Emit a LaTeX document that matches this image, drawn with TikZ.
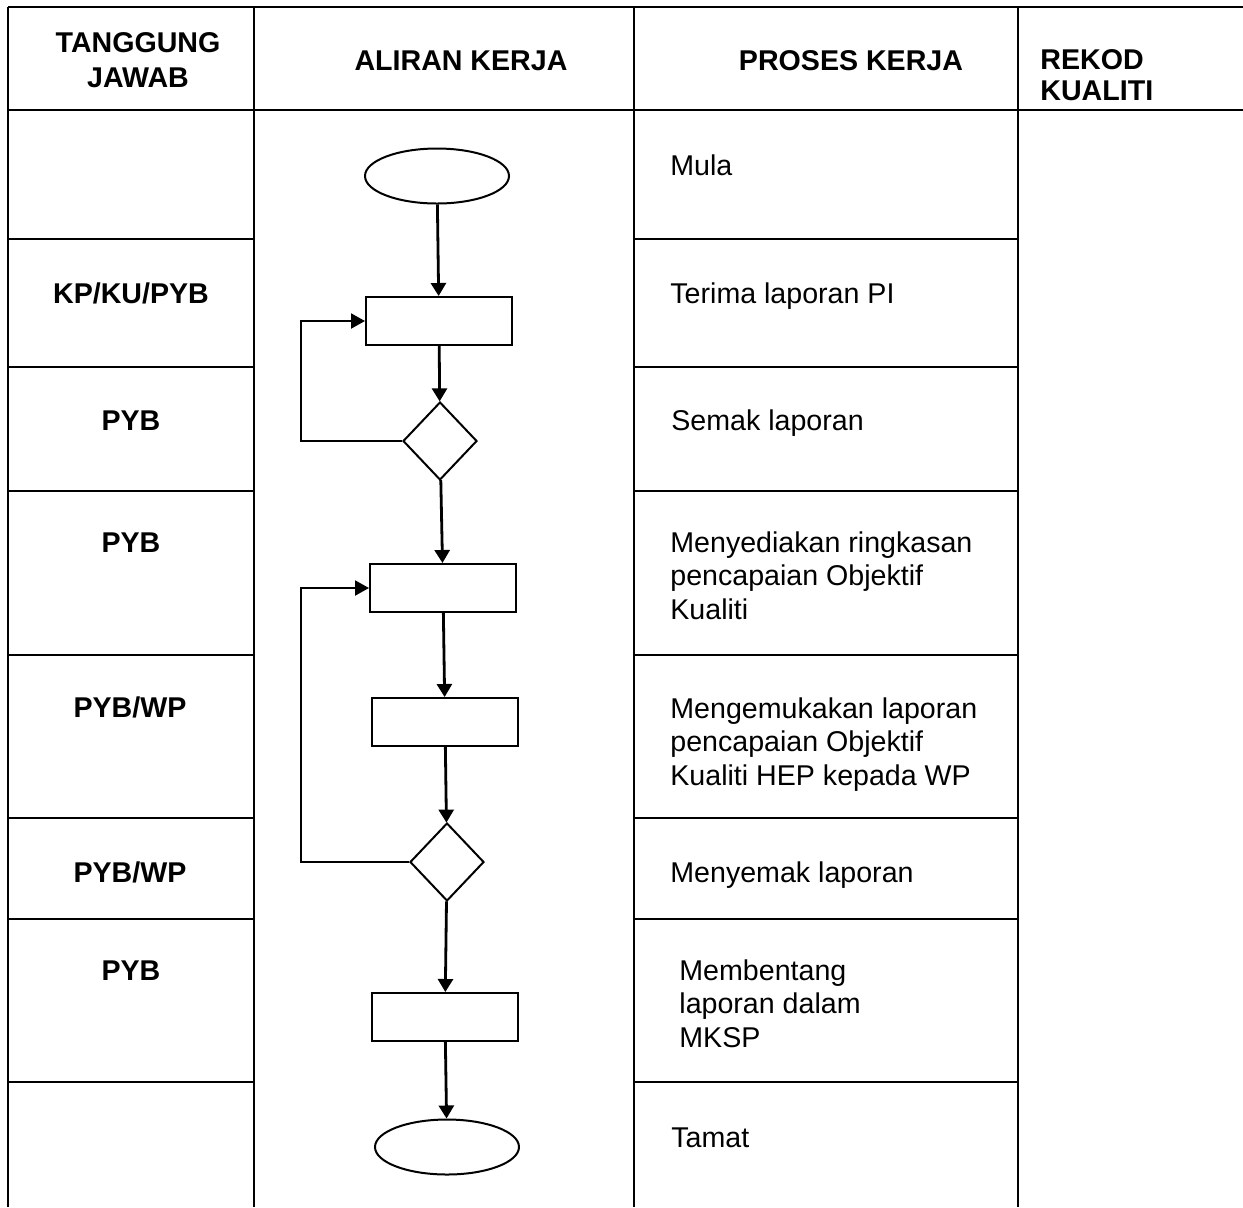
\documentclass[tikz,border=0pt]{standalone}
\usepackage{fontspec}
\setmainfont{Liberation Sans}
\usepackage{tikz}
\usetikzlibrary{shapes.geometric}
\usetikzlibrary{arrows.meta}
\tikzset{term/.style = {draw, ellipse, line width = 1pt, inner sep = 0, minimum width = 72pt, minimum height = 27.5pt}}
\tikzset{proc/.style = {draw, rectangle, line width = 1pt, inner sep = 0, minimum width = 73pt, minimum height = 24pt}}
\tikzset{dec/.style = {draw, diamond, line width = 1pt, inner sep = 0, minimum width = 37pt, minimum height = 39pt}}
\tikzset{flow/.style = {line width = 1.4pt, -{Triangle[length = 6.5pt, width = 7.5pt]}}}
\tikzset{back/.style = {line width = 1pt, -{Triangle[length = 7pt, width = 7.5pt]}}}
\tikzset{tbl/.style = {line width = 1.3pt}}
\tikzset{txt/.style = {inner sep = 0, font = \fontsize{14.3}{16.75}\selectfont}}
\tikzset{hdr/.style = {inner sep = 0, font = \bfseries\fontsize{14.3}{17.5}\selectfont}}

\begin{document}
\begin{tikzpicture}[x = 0.5pt, y = -0.5pt]
       \useasboundingbox (0, 0) rectangle (1243, 1207);

       % table
       \draw [tbl] (8, 7) -- (1243, 7);
       \draw [tbl] (8, 110) -- (1243, 110);
       \foreach \x in {8, 254, 634, 1018}
              \draw [tbl] (\x, 7) -- (\x, 1207);
       \foreach \y in {239, 367, 491, 655, 818, 919, 1082} {
              \draw [tbl] (8, \y) -- (254, \y);
              \draw [tbl] (634, \y) -- (1018, \y);
       }

       % headers
       \node [hdr, align = center, anchor = north] (hjawab) at (138, 32) {TANGGUNG\\JAWAB};
       \node [hdr, anchor = base] (haliran) at (461, 70) {ALIRAN KERJA};
       \node [hdr, anchor = base] (hproses) at (851, 70) {PROSES KERJA};
       \node [hdr, align = left, anchor = north west, font = \bfseries\fontsize{14.3}{15.5}\selectfont] (hrekod) at (1040, 49) {REKOD\\KUALITI};

       % tanggung jawab
       \node [hdr, anchor = base] (j1) at (131, 303) {KP/KU/PYB};
       \node [hdr, anchor = base] (j2) at (131, 430) {PYB};
       \node [hdr, anchor = base] (j3) at (131, 552) {PYB};
       \node [hdr, anchor = base] (j4) at (130, 717) {PYB/WP};
       \node [hdr, anchor = base] (j5) at (130, 882) {PYB/WP};
       \node [hdr, anchor = base] (j6) at (131, 980) {PYB};

       % proses kerja
       \node [txt, anchor = base west] (p1) at (670, 175) {Mula};
       \node [txt, anchor = base west] (p2) at (670, 303) {Terima laporan PI};
       \node [txt, anchor = base west] (p3) at (671, 430) {Semak laporan};
       \node [txt, align = left, anchor = north west] (p4) at (670, 531) {Menyediakan ringkasan\\pencapaian Objektif\\Kualiti};
       \node [txt, align = left, anchor = north west] (p5) at (670, 697) {Mengemukakan laporan\\pencapaian Objektif\\Kualiti HEP kepada WP};
       \node [txt, anchor = base west] (p6) at (670, 882) {Menyemak laporan};
       \node [txt, align = left, anchor = north west] (p7) at (679, 959) {Membentang\\laporan dalam\\MKSP};
       \node [txt, anchor = base west] (p8) at (671, 1147) {Tamat};

       % aliran kerja
       \node [term] (mula) at (437, 176) {};
       \node [proc] (terima) at (439, 321) {};
       \node [dec] (semak) at (440, 441) {};
       \node [proc] (sedia) at (443, 588) {};
       \node [proc] (kemuka) at (445, 722) {};
       \node [dec] (nyemak) at (447, 862) {};
       \node [proc] (bentang) at (445, 1017) {};
       \node [term] (tamat) at (447, 1147) {};
       \coordinate (kiri) at (301, 0);

       \draw [flow] (mula) -- (terima);
       \draw [flow] (terima) -- (semak);
       \draw [flow] (semak) -- (sedia);
       \draw [flow] (sedia) -- (kemuka);
       \draw [flow] (kemuka) -- (nyemak);
       \draw [flow] (nyemak) -- (bentang);
       \draw [flow] (bentang) -- (tamat);

       \draw [back] (semak.west) -- (semak.west -| kiri) |- (terima.west);
       \draw [back] (nyemak.west) -- (nyemak.west -| kiri) |- (sedia.west);
\end{tikzpicture}
\end{document}
